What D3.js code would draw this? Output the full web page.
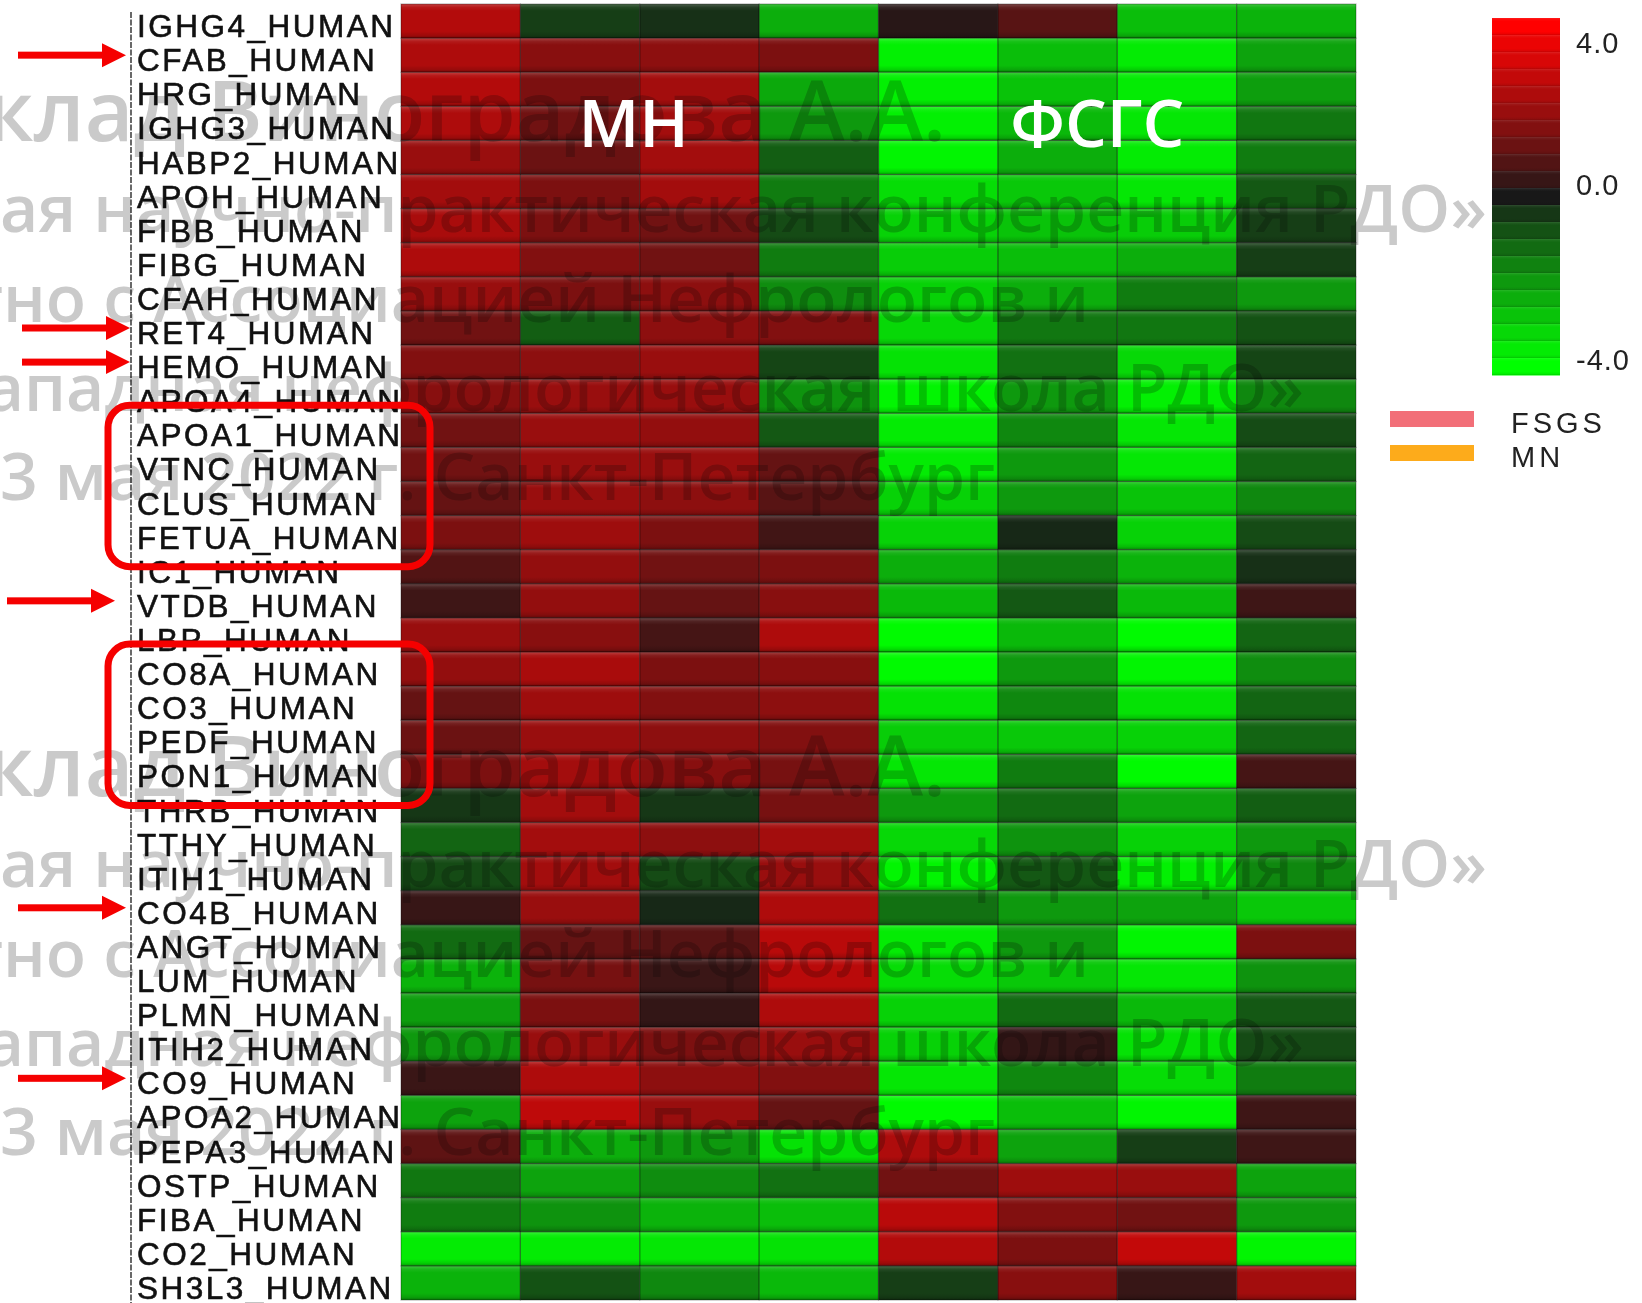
<!DOCTYPE html>
<html>
<head>
<meta charset="utf-8">
<script src="https://cdn.jsdelivr.net/npm/d3@7"></script>
<style>
  html, body { margin: 0; padding: 0; background: #fff; }
  svg { display: block; }
</style>
</head>
<body>
<svg id="chart" width="1642" height="1303"></svg>
<script>
// ---- data ----
const proteins = [
  "IGHG4_HUMAN","CFAB_HUMAN","HRG_HUMAN","IGHG3_HUMAN","HABP2_HUMAN","APOH_HUMAN",
  "FIBB_HUMAN","FIBG_HUMAN","CFAH_HUMAN","RET4_HUMAN","HEMO_HUMAN","APOA4_HUMAN",
  "APOA1_HUMAN","VTNC_HUMAN","CLUS_HUMAN","FETUA_HUMAN","IC1_HUMAN","VTDB_HUMAN",
  "LBP_HUMAN","CO8A_HUMAN","CO3_HUMAN","PEDF_HUMAN","PON1_HUMAN","THRB_HUMAN",
  "TTHY_HUMAN","ITIH1_HUMAN","CO4B_HUMAN","ANGT_HUMAN","LUM_HUMAN","PLMN_HUMAN",
  "ITIH2_HUMAN","CO9_HUMAN","APOA2_HUMAN","PEPA3_HUMAN","OSTP_HUMAN","FIBA_HUMAN",
  "CO2_HUMAN","SH3L3_HUMAN"
];

const mnSamples = ["MN-1","MN-2","MN-3","MN-4"];
const fsgsSamples = ["FSGS-1","FSGS-2","FSGS-3","FSGS-4"];

// log-ratio per protein, MN samples
const mnValues = [
  [2.5,-0.5,-0.3,-2.4],[2.4,1.7,1.8,1.5],[2.5,1.5,2.2,-2.3],[2.4,1.3,2.2,-2.0],
  [2.0,1.2,2.2,-1.0],[2.2,1.5,2.2,-1.5],[2.3,1.5,1.3,-0.7],[2.4,1.6,1.3,-1.5],
  [2.0,1.5,1.8,-1.8],[1.3,-1.0,1.8,1.6],[1.6,1.8,2.0,-0.6],[1.7,2.0,2.0,-1.9],
  [1.3,2.0,1.9,-0.9],[1.3,2.0,2.0,1.1],[1.1,2.0,1.8,0.9],[1.5,2.1,1.5,0.55],
  [0.8,1.9,1.3,1.5],[0.5,1.9,1.1,1.7],[2.0,1.7,0.6,2.4],[1.9,2.3,1.5,1.7],
  [1.1,2.1,1.6,1.8],[1.2,2.0,1.8,1.6],[1.5,2.2,1.7,1.4],[-0.4,2.2,-0.4,1.4],
  [-1.1,2.2,1.8,2.2],[-0.7,2.2,-0.7,2.0],[0.4,2.0,-0.2,2.4],[-1.2,1.1,0.9,2.6],
  [-2.5,1.4,0.45,2.6],[-2.1,1.5,0.35,2.4],[-2.0,2.0,1.5,2.0],[0.45,2.4,1.8,1.6],
  [-2.2,2.7,2.0,1.1],[1.0,-2.4,-2.0,-3.4],[-1.4,-2.2,-1.8,-1.3],[-1.5,-1.9,-2.5,-2.7],
  [-3.6,-3.6,-3.5,-3.4],[-2.5,-0.8,-1.7,-2.6]
];

// log-ratio per protein, FSGS samples
const fsgsValues = [
  [0.2,0.9,-2.7,-2.5],[-3.7,-2.7,-3.6,-2.2],[-3.7,-2.8,-3.6,-2.1],[-3.7,-2.6,-3.5,-1.4],
  [-3.8,-2.4,-3.6,-1.5],[-3.3,-2.9,-3.5,-0.9],[-3.1,-2.8,-3.0,-0.5],[-3.0,-2.7,-2.4,-0.5],
  [-3.1,-2.4,-1.5,-2.0],[-3.2,-1.4,-1.4,-0.8],[-3.4,-1.3,-3.2,-0.6],[-3.8,-2.0,-3.7,-1.7],
  [-3.6,-1.7,-3.5,-0.7],[-3.6,-2.0,-3.5,-1.1],[-3.1,-2.0,-2.8,-1.7],[-3.1,-0.2,-3.1,-0.7],
  [-2.4,-1.5,-2.5,-0.3],[-2.6,-0.9,-2.6,0.5],[-3.9,-2.6,-3.9,-1.1],[-3.9,-2.0,-3.8,-1.8],
  [-3.4,-1.7,-3.4,-1.1],[-3.0,-2.9,-3.1,-1.1],[-3.5,-1.5,-3.9,0.6],[-2.0,-1.2,-2.2,-1.0],
  [-3.2,-1.9,-3.1,-2.0],[-3.8,-0.9,-3.7,-1.7],[-1.3,-2.0,-2.2,-2.9],[-3.6,-2.0,-3.8,1.5],
  [-3.3,-2.9,-3.5,-1.9],[-3.1,-1.2,-2.6,-0.9],[-3.1,0.35,-3.4,-0.7],[-3.5,-1.7,-3.3,-1.5],
  [-3.9,-2.7,-3.8,0.5],[2.4,-2.2,-0.5,0.5],[1.3,2.1,2.0,-2.2],[2.6,1.6,1.3,-2.0],
  [2.5,1.5,2.8,-3.8],[-0.5,1.7,0.4,2.2]
];

const scaleTicks = [4, 0, -4];
const tickLabels = ["4.0", "0.0", "-4.0"];
const groupTitles = ["МН", "ФСГС"];
const legendGroups = ["FSGS", "MN"];
const markedProteins = ["CFAB_HUMAN","RET4_HUMAN","HEMO_HUMAN","VTDB_HUMAN","CO4B_HUMAN","CO9_HUMAN"];
const boxedRanges = [["APOA1_HUMAN","FETUA_HUMAN"], ["CO8A_HUMAN","PON1_HUMAN"]];
const watermarkLines = [
  "Доклад Виноградова А.А.",
  "Всероссийская научно-практическая конференция РДО»",
  "совместно с Ассоциацией Нефрологов и",
  "Северо-Западная нефрологическая школа РДО»",
  "13 мая 2022 г. Санкт-Петербург"
];

// ---- drawing ----
const svg = d3.select("#chart");
svg.append("rect").attr("width", 1642).attr("height", 1303).attr("fill", "#fff");

const defs = svg.append("defs");
const bevel = defs.append("linearGradient").attr("id", "bevel")
  .attr("x1", 0).attr("y1", 0).attr("x2", 0).attr("y2", 1);
[[0, "#fff", 0.22], [0.1, "#fff", 0.06], [0.2, "#fff", 0], [0.8, "#000", 0], [0.92, "#000", 0.12], [1, "#000", 0.35]]
  .forEach(([o, c, a]) => bevel.append("stop").attr("offset", o).attr("stop-color", c).attr("stop-opacity", a));

const samples = mnSamples.concat(fsgsSamples);
const x = d3.scaleBand().domain(samples).range([401, 1356]);
const y = d3.scaleBand().domain(proteins).range([4, 1300]);
const color = d3.scaleLinear().domain([-4, 0, 4])
  .range(["#00ff00", "#181818", "#ff0000"])
  .interpolate(d3.interpolateRgb.gamma(1.25))
  .clamp(true);

const cells = [];
proteins.forEach((p, i) => {
  mnSamples.forEach((s, j) => cells.push({ p, s, v: mnValues[i][j] }));
  fsgsSamples.forEach((s, j) => cells.push({ p, s, v: fsgsValues[i][j] }));
});

const heat = svg.append("g");
heat.selectAll("rect.cell").data(cells).join("rect").attr("class", "cell")
  .attr("x", d => x(d.s)).attr("y", d => y(d.p))
  .attr("width", x.bandwidth()).attr("height", y.bandwidth())
  .attr("fill", d => color(d.v));
heat.selectAll("rect.shade").data(cells).join("rect").attr("class", "shade")
  .attr("x", d => x(d.s)).attr("y", d => y(d.p))
  .attr("width", x.bandwidth()).attr("height", y.bandwidth())
  .attr("fill", "url(#bevel)")
  .attr("stroke", "rgba(0,0,0,0.28)").attr("stroke-width", 1.2);

// row labels
const labels = svg.append("g");
labels.append("line")
  .attr("x1", 131).attr("x2", 131).attr("y1", 12).attr("y2", 1303)
  .attr("stroke", "#444").attr("stroke-width", 1.6).attr("stroke-dasharray", "6 1.5");
labels.selectAll("text").data(proteins).join("text")
  .attr("x", 137).attr("y", d => y(d) + y.bandwidth() - 1)
  .attr("font-family", "'Liberation Sans', Arial, sans-serif")
  .attr("font-size", 31.5).attr("letter-spacing", 2.5)
  .attr("fill", "#111").attr("stroke", "#111").attr("stroke-width", 0.6)
  .text(d => d);

// faint overlay lines
const wm = svg.append("g").style("mix-blend-mode", "multiply")
  .attr("font-family", "'Open Sans', sans-serif").attr("font-weight", 600)
  .attr("fill", "#cacaca").attr("text-anchor", "end");
const wmEnds = [946, 1487, 1089, 1304, 995];
const wmBase = [141, 232, 322, 411, 500];
const wmSize = [84, 66, 66, 66, 66];
[0, 655].forEach(off => {
  watermarkLines.forEach((t, i) => {
    wm.append("text").attr("x", wmEnds[i]).attr("y", wmBase[i] + off)
      .attr("font-size", wmSize[i]).text(t);
  });
});

// group titles
const titleX = [d3.mean(mnSamples, s => x(s) + x.bandwidth() / 2) - 6,
                d3.mean(fsgsSamples, s => x(s) + x.bandwidth() / 2) - 20];
svg.append("g").selectAll("text").data(groupTitles).join("text")
  .attr("x", (d, i) => titleX[i]).attr("y", 147)
  .attr("text-anchor", "middle")
  .attr("font-family", "'Open Sans', sans-serif").attr("font-weight", 600)
  .attr("font-size", 66).attr("fill", "#fff")
  .text(d => d);

// highlight boxes
svg.append("g").selectAll("rect").data(boxedRanges).join("rect")
  .attr("x", 108).attr("y", d => y(d[0]) - 8)
  .attr("width", 322).attr("height", d => y(d[1]) + y.bandwidth() + 17 - (y(d[0]) - 8))
  .attr("rx", 22).attr("fill", "none")
  .attr("stroke", "#f50000").attr("stroke-width", 7);

// arrows
const arrowStart = { "CFAB_HUMAN": 18, "RET4_HUMAN": 22, "HEMO_HUMAN": 22, "VTDB_HUMAN": 7, "CO4B_HUMAN": 18, "CO9_HUMAN": 18 };
const arrows = svg.append("g").selectAll("g").data(markedProteins).join("g")
  .attr("transform", d => `translate(${arrowStart[d]},${y(d) + y.bandwidth() / 2})`);
arrows.append("rect").attr("x", 0).attr("y", -3.5).attr("width", 86).attr("height", 7).attr("fill", "#f50000");
arrows.append("path").attr("d", "M84,-12 L108,0 L84,12 Z").attr("fill", "#f50000");

// colour bar
const barSteps = d3.range(21).map(i => 4 - i * 0.4);
const barY = d3.scaleBand().domain(barSteps).range([18, 375]);
const bar = svg.append("g");
bar.selectAll("rect.step").data(barSteps).join("rect").attr("class", "step")
  .attr("x", 1492).attr("y", d => barY(d)).attr("width", 68).attr("height", barY.bandwidth() + 0.5)
  .attr("fill", d => color(d));
bar.selectAll("rect.stepShade").data(barSteps).join("rect").attr("class", "stepShade")
  .attr("x", 1492).attr("y", d => barY(d)).attr("width", 68).attr("height", barY.bandwidth())
  .attr("fill", "url(#bevel)").attr("opacity", 0.5);
const tickY = d3.scaleLinear().domain(scaleTicks).range([42, 184, 359]);
bar.selectAll("text").data(scaleTicks).join("text")
  .attr("x", 1576).attr("y", d => tickY(d) + 11)
  .attr("font-family", "'Liberation Sans', Arial, sans-serif")
  .attr("font-size", 29).attr("letter-spacing", 1)
  .attr("fill", "#222")
  .text((d, i) => tickLabels[i]);

// group legend
const legendColor = d3.scaleOrdinal().domain(legendGroups).range(["#f26f78", "#fdab1b"]);
const legendY = d3.scalePoint().domain(legendGroups).range([419, 453]);
const leg = svg.append("g");
leg.selectAll("rect").data(legendGroups).join("rect")
  .attr("x", 1390).attr("y", d => legendY(d) - 8).attr("width", 84).attr("height", 16)
  .attr("fill", d => legendColor(d));
leg.selectAll("text").data(legendGroups).join("text")
  .attr("x", 1511).attr("y", d => legendY(d) + 14)
  .attr("font-family", "'Liberation Sans', Arial, sans-serif")
  .attr("font-size", 29).attr("letter-spacing", 4)
  .attr("fill", "#222")
  .text(d => d);
</script>
</body>
</html>
